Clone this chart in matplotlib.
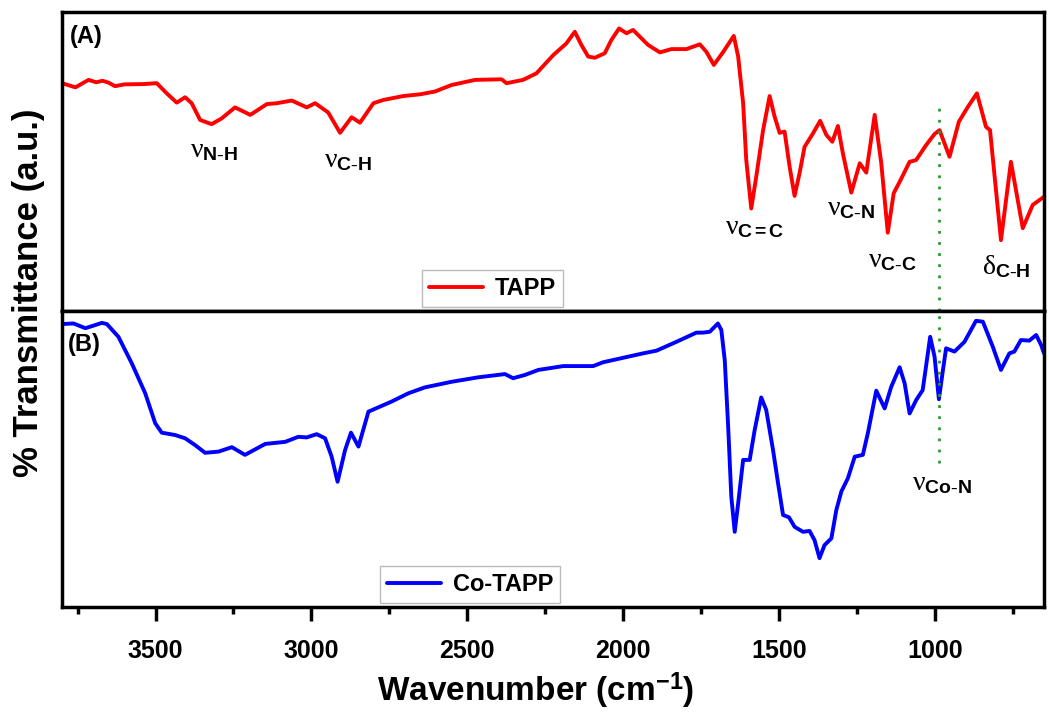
import matplotlib
matplotlib.use("Agg")
import matplotlib.pyplot as plt
from matplotlib.ticker import MultipleLocator

# TAPP spectrum (wavenumber cm-1, transmittance a.u.)
tapp_wn = [3800, 3757, 3715, 3690, 3670, 3651, 3630, 3600, 3538, 3496, 3464, 3432,
           3405, 3384, 3357, 3320, 3288, 3245, 3196, 3143, 3111, 3063, 3015, 2988,
           2946, 2908, 2871, 2844, 2801, 2769, 2705, 2650, 2604, 2550, 2475, 2390,
           2374, 2321, 2278, 2224, 2182, 2155, 2134, 2112, 2091, 2059, 2038, 2013,
           1989, 1968, 1947, 1920, 1882, 1845, 1797, 1754, 1733, 1709, 1680, 1645,
           1631, 1615, 1605, 1589, 1573, 1551, 1530, 1514, 1498, 1482, 1466, 1450,
           1434, 1418, 1391, 1368, 1348, 1329, 1311, 1295, 1268, 1241, 1220, 1193,
           1172, 1151, 1132, 1113, 1081, 1060, 1028, 1001, 985, 953, 923, 894,
           865, 836, 823, 788, 756, 718, 686, 650]
tapp_t = [76.2, 74.8, 77.3, 76.5, 77.0, 76.4, 75.2, 75.8, 75.9, 76.2, 72.8, 69.7,
          71.5, 69.5, 63.9, 62.5, 64.4, 68.1, 65.6, 69.2, 69.5, 70.4, 68.1, 69.5,
          66.4, 59.6, 64.8, 63.0, 69.5, 70.6, 71.9, 72.5, 73.4, 75.6, 77.3, 77.5,
          76.2, 77.3, 79.5, 85.6, 89.5, 93.4, 89.0, 85.1, 84.7, 86.2, 90.6, 94.5,
          92.9, 94.0, 91.8, 89.0, 86.5, 87.6, 87.6, 89.2, 86.7, 82.3, 86.5, 92.0,
          85.1, 69.5, 50.5, 34.3, 44.9, 60.5, 71.9, 65.0, 59.6, 60.0, 48.3, 38.5,
          46.1, 54.9, 59.4, 63.6, 58.9, 56.6, 61.9, 52.7, 39.6, 49.4, 46.3, 65.6,
          49.5, 26.2, 39.4, 43.2, 49.9, 50.5, 55.5, 59.2, 60.5, 51.6, 63.3, 68.3,
          72.8, 61.6, 60.5, 23.7, 49.9, 27.7, 35.5, 38.2]

# Co-TAPP spectrum
co_wn = [3800, 3763, 3725, 3704, 3672, 3656, 3619, 3576, 3533, 3501, 3480, 3437,
         3405, 3373, 3341, 3298, 3255, 3213, 3148, 3084, 3042, 3015, 2983, 2956,
         2935, 2916, 2892, 2873, 2849, 2817, 2743, 2689, 2636, 2550, 2465, 2379,
         2353, 2315, 2272, 2192, 2096, 2064, 1936, 1893, 1829, 1765, 1744, 1722,
         1696, 1685, 1674, 1663, 1653, 1642, 1631, 1615, 1594, 1578, 1557, 1541,
         1519, 1503, 1487, 1468, 1450, 1423, 1402, 1386, 1370, 1354, 1332, 1316,
         1300, 1279, 1257, 1231, 1215, 1188, 1161, 1140, 1113, 1097, 1081, 1060,
         1039, 1015, 1001, 987, 974, 964, 937, 905, 868, 846, 814, 788,
         761, 745, 724, 697, 675, 659, 650]
co_t = [95.6, 95.8, 94.2, 94.9, 96.0, 95.6, 91.3, 82.3, 72.2, 62.1, 58.9, 58.1,
        57.0, 54.7, 52.1, 52.5, 54.0, 51.4, 55.1, 55.8, 57.5, 57.3, 58.4, 57.0,
        50.8, 42.3, 53.0, 58.9, 54.2, 66.0, 69.4, 72.2, 74.2, 76.1, 77.6, 78.7,
        77.3, 78.4, 80.1, 81.4, 81.4, 82.7, 85.7, 86.6, 89.6, 92.7, 92.7, 93.0,
        95.8, 93.6, 83.4, 60.9, 37.3, 25.4, 35.0, 49.7, 49.7, 59.8, 70.8, 66.6,
        53.0, 41.8, 31.1, 30.3, 27.1, 25.4, 25.7, 22.6, 16.5, 20.9, 23.2, 32.8,
        39.0, 43.5, 50.8, 51.4, 58.7, 73.1, 67.1, 74.4, 81.0, 75.6, 65.4, 69.9,
        73.3, 91.3, 84.6, 70.2, 80.1, 87.4, 86.3, 89.6, 96.7, 96.4, 87.9, 80.1,
        85.7, 86.3, 90.2, 90.0, 91.9, 88.5, 85.7]

# band labels: (text, wavenumber, transmittance)
tapp_bands = [
    (r"$\mathrm{\nu}_{\mathbf{N\text{-}H}}$", 3314, 53.8),
    (r"$\mathrm{\nu}_{\mathbf{C\text{-}H}}$", 2882, 50.5),
    (r"$\mathrm{\nu}_{\mathbf{C=C}}$", 1577, 28.1),
    (r"$\mathrm{\nu}_{\mathbf{C\text{-}N}}$", 1269, 34.4),
    (r"$\mathrm{\nu}_{\mathbf{C\text{-}C}}$", 1135, 17.0),
    (r"$\mathrm{\delta}_{\mathbf{C\text{-}H}}$", 770, 14.7),
]
co_bands = [(r"$\mathrm{\nu}_{\mathbf{Co\text{-}N}}$", 978, 41.9)]
co_n_line = 987

plt.rcParams["font.family"] = ["Liberation Sans", "DejaVu Sans"]
plt.rcParams["mathtext.fontset"] = "custom"
plt.rcParams["mathtext.rm"] = "Liberation Serif"
plt.rcParams["mathtext.it"] = "Liberation Serif:italic"
plt.rcParams["mathtext.bf"] = "Liberation Sans:bold"

fig = plt.figure(figsize=(10.49, 7.24), dpi=100)
ax1 = fig.add_axes([0.0591, 0.5704, 0.9361, 0.4130])
ax2 = fig.add_axes([0.0591, 0.1616, 0.9361, 0.4088], sharex=ax1)

ax1.plot(tapp_wn, tapp_t, color="#ff0000", lw=2.8, label="TAPP",
         solid_joinstyle="round", solid_capstyle="round")
ax2.plot(co_wn, co_t, color="#0000ff", lw=2.8, label="Co-TAPP",
         solid_joinstyle="round", solid_capstyle="round")

ax1.set_ylim(0, 100)
ax2.set_ylim(0, 100)
ax1.set_xlim(3800, 650)

ax1.axvline(co_n_line, ymin=0, ymax=0.70, color="#2e9a2e", ls=(0, (1, 3)), lw=2)
ax2.axvline(co_n_line, ymin=0.486, ymax=1, color="#2e9a2e", ls=(0, (1, 3)), lw=2)

for txt, x, y in tapp_bands:
    ax1.text(x, y, txt, fontsize=20, ha="center", va="center")
for txt, x, y in co_bands:
    ax2.text(x, y, txt, fontsize=20, ha="center", va="center")

ax1.text(0.008, 0.955, "(A)", transform=ax1.transAxes, fontsize=17,
         fontweight="bold", va="top")
ax2.text(0.006, 0.925, "(B)", transform=ax2.transAxes, fontsize=17,
         fontweight="bold", va="top")

for ax, anchor in ((ax1, (0.514, 0.0)), (ax2, (0.511, 0.0))):
    leg = ax.legend(loc="lower right", bbox_to_anchor=anchor, fancybox=False,
                    prop={"weight": "bold", "size": 17}, handlelength=2.3,
                    borderpad=0.3, handletextpad=0.5, borderaxespad=0.15)
    leg.get_frame().set_edgecolor("#aaaaaa")
    leg.get_frame().set_linewidth(1)
    for s in ax.spines.values():
        s.set_linewidth(2.5)
    ax.tick_params(left=False, labelleft=False)

ax1.tick_params(axis="x", which="both", bottom=False, labelbottom=False)
ax2.xaxis.set_major_locator(MultipleLocator(500))
ax2.xaxis.set_minor_locator(MultipleLocator(250))
ax2.tick_params(axis="x", which="major", direction="out", length=10, width=2.5,
                pad=13)
ax2.tick_params(axis="x", which="minor", direction="out", length=5, width=2.5)
for lab in ax2.get_xticklabels():
    lab.set_fontweight("bold")
    lab.set_fontsize(18)

ax2.set_xlabel(r"Wavenumber (cm$^{\mathbf{-1}}$)", fontsize=24, fontweight="bold")
ax2.xaxis.set_label_coords(0.482, -0.215)
fig.text(0.027, 0.595, "% Transmittance (a.u.)", rotation=90, fontsize=25,
         fontweight="bold", ha="center", va="center")

fig.savefig("out.png", dpi=100)
